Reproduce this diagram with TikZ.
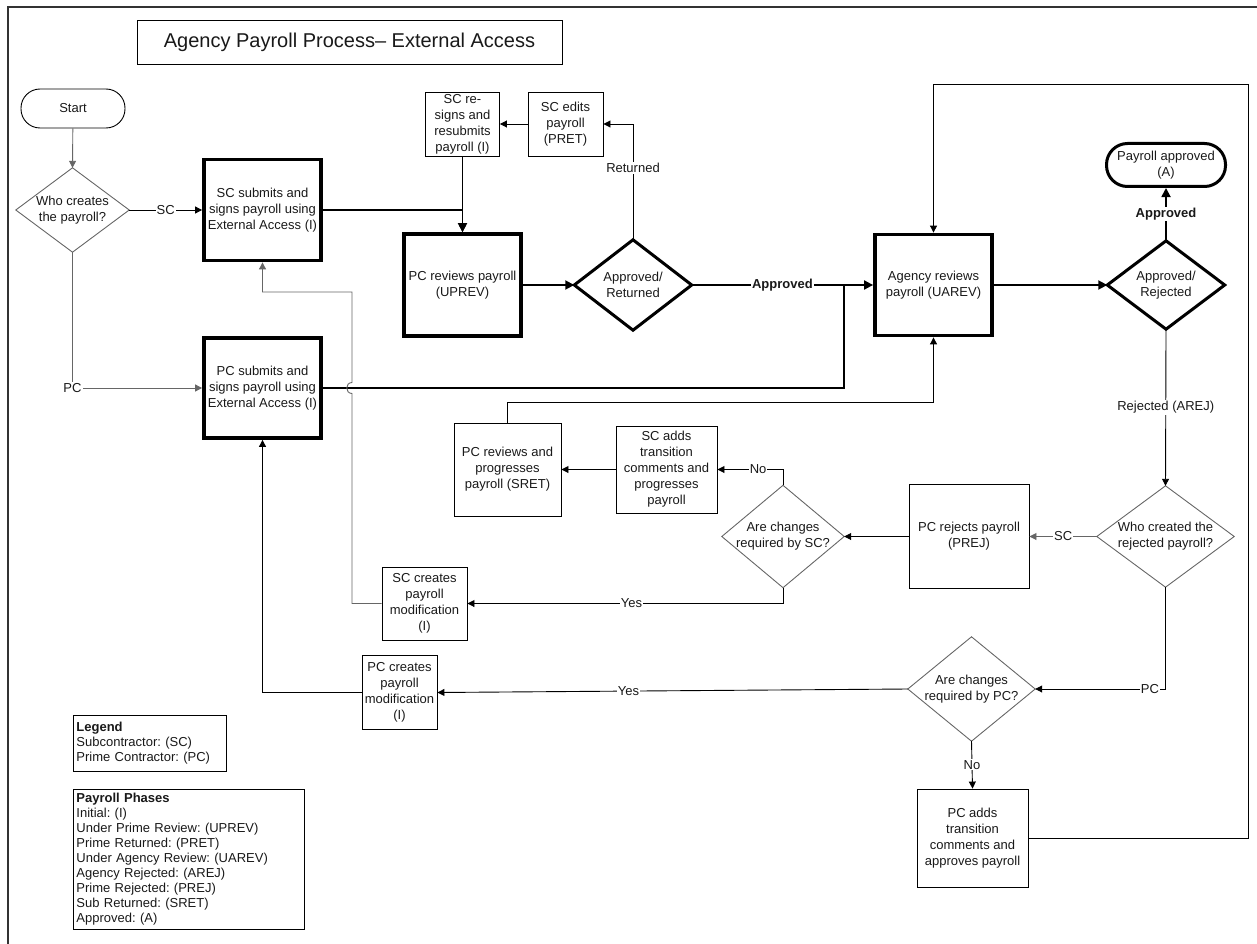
\documentclass[tikz,border=0pt]{standalone}
\usepackage{fontspec}
\setmainfont{Liberation Sans}
\usetikzlibrary{arrows.meta}
\begin{document}
\frenchspacing
\begin{tikzpicture}[x=1pt,y=-1pt,
  every node/.style={font=\fontsize{13}{16}\selectfont, text=black!90},
  box/.style={draw, rectangle, align=center, inner sep=1pt, line width=0.9pt},
  thickbox/.style={box, line width=3.8pt},
  term/.style={box, rounded corners=19pt},
  thickterm/.style={box, line width=3pt, rounded corners=21pt},
  dia/.style={rectangle, align=center, inner sep=0pt},
  lbl/.style={fill=white, inner sep=1pt},
  blbl/.style={lbl, font=\bfseries\fontsize{13}{16}\selectfont},
  conn/.style={line width=0.9pt, -{Triangle[length=7pt,width=7pt]}},
  gconn/.style={conn, draw=black!60},
  mconn/.style={line width=1.8pt, -{Triangle[length=9pt,width=9pt]}},
  legendbox/.style={draw, line width=0.9pt, anchor=north west, align=left, inner xsep=3pt, inner ysep=2pt, font=\frenchspacing\fontsize{13}{15}\selectfont}
]
\useasboundingbox (0,0) rectangle (1257,944);
\draw[line width=2pt, black!80] (8,944) -- (8,7) -- (1257,7);

% title
\node[box, minimum width=425pt, minimum height=44pt, font=\fontsize{20}{24}\selectfont] (title) at (349.5,42) {Agency Payroll Process\textendash{} External Access};

% nodes
\node[term, minimum width=104pt, minimum height=39pt] (start) at (73,108.5) {Start};
\node[dia, minimum width=113pt, minimum height=84pt] (q1) at (72.5,210) {Who creates\\the payroll?};
\node[thickbox, minimum width=117pt, minimum height=101pt] (scsub) at (262.5,210) {SC submits and\\signs payroll using\\External Access (I)};
\node[thickbox, minimum width=117pt, minimum height=100pt] (pcsub) at (262.5,388) {PC submits and\\signs payroll using\\External Access (I)};
\node[thickbox, minimum width=117pt, minimum height=102pt] (uprev) at (462.5,285) {PC reviews payroll\\(UPREV)};
\node[box, minimum width=74pt, minimum height=64pt] (resign) at (462.5,124) {SC re-\\signs and\\resubmits\\payroll (I)};
\node[box, minimum width=75pt, minimum height=64pt] (edits) at (565.5,124) {SC edits\\payroll\\(PRET)};
\node[dia, minimum width=117pt, minimum height=90pt] (d2) at (633,285) {Approved/\\Returned};
\node[thickbox, minimum width=117pt, minimum height=101pt] (uarev) at (933.5,285) {Agency reviews\\payroll (UAREV)};
\node[dia, minimum width=117pt, minimum height=88pt] (d3) at (1166,285) {Approved/\\Rejected};
\node[thickterm, minimum width=119pt, minimum height=43pt] (appr) at (1166,165) {Payroll approved\\(A)};
\node[dia, minimum width=137pt, minimum height=101pt] (q4) at (1165.5,536.5) {Who created the\\rejected payroll?};
\node[box, minimum width=120pt, minimum height=104pt] (prej) at (969,536.5) {PC rejects payroll\\(PREJ)};
\node[dia, minimum width=122pt, minimum height=102pt] (q5) at (783,536.5) {Are changes\\required by SC?};
\node[box, minimum width=101pt, minimum height=87pt] (scadd) at (666.5,469.5) {SC adds\\transition\\comments and\\progresses\\payroll};
\node[box, minimum width=107pt, minimum height=93pt] (sret) at (507.5,469.5) {PC reviews and\\progresses\\payroll (SRET)};
\node[box, minimum width=85pt, minimum height=73pt] (scmod) at (424.5,603.5) {SC creates\\payroll\\modification\\(I)};
\node[box, minimum width=75pt, minimum height=74pt] (pcmod) at (399.5,692.5) {PC creates\\payroll\\modification\\(I)};
\node[dia, minimum width=127pt, minimum height=104pt] (q6) at (971.5,689) {Are changes\\required by PC?};
\node[box, minimum width=111pt, minimum height=98pt] (pcadd) at (972.5,838) {PC adds\\transition\\comments and\\approves payroll};

% diamonds outlines
\foreach \n in {q1,q4,q5,q6}
  \draw[line width=0.9pt, black!60] (\n.north) -- (\n.east) -- (\n.south) -- (\n.west) -- cycle;
\foreach \n in {d2,d3}
  \draw[line width=3pt] (\n.north) -- (\n.east) -- (\n.south) -- (\n.west) -- cycle;

% legend
\node[legendbox, text width=147pt, minimum height=56pt] (legend) at (73,715) {\textbf{Legend}\\Subcontractor: (SC)\\Prime Contractor: (PC)};
\node[legendbox, text width=225pt, minimum height=140pt] (phases) at (73,789) {\textbf{Payroll Phases}\\Initial: (I)\\Under Prime Review: (UPREV)\\Prime Returned: (PRET)\\Under Agency Review: (UAREV)\\Agency Rejected: (AREJ)\\Prime Rejected: (PREJ)\\Sub Returned: (SRET)\\Approved: (A)};

% connectors
\draw[gconn] (start) -- (q1.north);
\draw[conn] (q1.east) -- node[lbl]{SC} (scsub.west);
\draw[gconn] (q1.south) |- node[lbl, pos=0.5]{PC} (pcsub.west);
\draw[mconn] (scsub.east) -| (uprev.north);
\draw[conn] (resign.south) -- (uprev.north);
\draw[conn] (edits.west) -- (resign.east);
\draw[mconn] (uprev.east) -- (d2.west);
\draw[conn] (d2.north) |- node[lbl, pos=0.31]{Returned} (edits.east);
\draw[mconn] (d2.east) -- node[blbl]{Approved} (uarev.west);
\coordinate (j1) at (844,285);
\draw[line width=1.8pt] (pcsub.east) -| (j1);
\draw[mconn] (uarev.east) -- (d3.west);
\draw[mconn] (d3.north) -- node[blbl, pos=0.5]{Approved} (appr.south);
\draw[conn] (d3.south) -- node[lbl]{Rejected (AREJ)} (q4.north);
\draw[gconn] (q4.west) -- node[lbl]{SC} (prej.east);
\draw[conn] (prej.west) -- (q5.east);
\draw[conn] (q5.north) |- node[lbl, pos=0.69]{No} (scadd.east);
\draw[conn] (scadd.west) -- (sret.east);
\draw[conn] (sret.north) -- ++(0,-20) -| (uarev.south);
\draw[conn] (q5.south) |- node[lbl, pos=0.74]{Yes} (scmod.east);
\draw[gconn] (scmod.west) -- (352,603.5) -- (352,393.5) .. controls (345,393.5) and (345,382.5) .. (352,382.5) -- (352,292) -| (scsub.south);
\draw[conn] (pcmod.west) -| (pcsub.south);
\draw[conn] (q6.west) -- node[lbl, pos=0.594]{Yes} (pcmod.east);
\draw[conn] (q4.south) |- node[lbl, pos=0.56]{PC} (q6.east);
\draw[conn] (q6.south) -- node[lbl]{No} (pcadd.north);
\draw[conn] (pcadd.east) -| (1248,84) -| (uarev.north);
\end{tikzpicture}
\end{document}
